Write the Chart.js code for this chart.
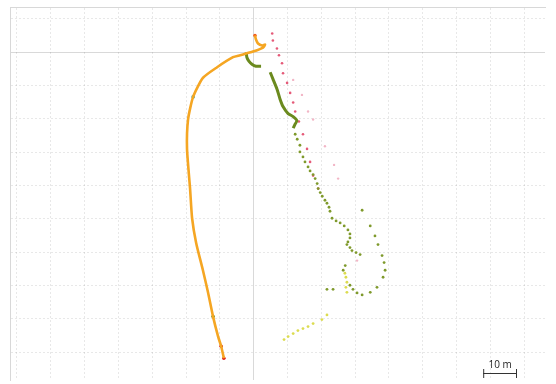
<!DOCTYPE html>
<html lang="en">
<head>
  <meta charset="UTF-8" />
  <title>Track</title>
  <script src="https://cdn.jsdelivr.net/npm/chart.js"></script>
  <style>
    html, body { margin: 0; padding: 0; background: #fff; }
    #wrap { width: 556px; height: 384px; }
  </style>
</head>
<body>
  <div id="wrap"><canvas id="track"></canvas></div>
  <script>
    // grid lines, every 10 m
    const xGrid = [0, 10, 20, 30, 40, 50, 60, 70, 80, 90, 100, 110, 120, 130, 140, 150];
    const yGrid = [10, 20, 30, 40, 50, 60, 70, 80, 90, 100, 110];

    // orange track (x, y in metres)
    const orangeX = [70.4, 70.7, 71.3, 72.5, 73.4, 72.8, 69.8, 66.0, 63.9, 59.2, 55.0, 52.1, 50.6, 50.3, 51.2, 51.8, 53.0, 55.0, 56.5, 58.0, 59.5, 60.4, 61.2];
    const orangeY = [105.0, 103.8, 102.6, 102.0, 102.3, 101.4, 100.2, 99.1, 98.5, 95.5, 92.3, 86.6, 79.8, 71.0, 59.1, 50.2, 42.8, 34.6, 28.0, 20.7, 14.7, 11.8, 8.2];

    // olive track, two solid pieces
    const oliveAX = [67.8, 68.0, 68.6, 69.5, 70.7, 72.2];
    const oliveAY = [100.0, 98.5, 97.3, 96.4, 95.8, 95.8];
    const oliveBX = [74.9, 75.7, 76.9, 77.8, 78.7, 80.2, 81.7, 82.8, 82.2, 81.7];
    const oliveBY = [94.0, 92.0, 89.0, 86.0, 83.7, 81.6, 80.7, 79.5, 78.3, 77.2];

    // olive dots
    const oliveDotX = [82.3, 82.9, 83.7, 83.7, 84.6, 85.2, 86.1, 86.7, 87.6, 88.2, 88.8, 89.1, 89.7, 90.3, 91.1, 91.7, 92.3, 92.6, 93.2, 94.4, 95.6, 96.8, 97.9, 98.5, 98.5, 97.9, 97.6, 98.5, 99.1, 100.3, 101.5, 97.1, 96.5,
      102.1, 104.5, 105.9, 106.8, 108.0, 108.6, 108.9, 108.3, 106.5, 104.5, 102.1, 100.6, 99.4, 98.5, 93.5, 91.7];
    const oliveDotY = [75.4, 73.9, 72.1, 70.1, 68.6, 67.1, 65.6, 64.4, 63.3, 62.1, 60.6, 59.1, 57.9, 56.8, 55.6, 54.7, 53.5, 52.3, 50.2, 49.4, 48.8, 47.9, 46.7, 45.5, 44.3, 43.1, 42.3, 41.4, 40.5, 39.9, 39.3, 36.0, 34.6,
      52.6, 47.9, 44.9, 42.3, 39.0, 36.9, 34.6, 32.5, 29.5, 28.0, 27.2, 27.8, 28.9, 30.1, 28.9, 28.9];

    // yellow dots
    const yellowX = [97.0, 97.3, 97.6, 97.3, 97.6, 91.7, 90.2, 87.6, 86.1, 84.6, 83.1, 81.7, 80.2, 79.0];
    const yellowY = [33.7, 32.5, 31.0, 29.5, 28.0, 21.2, 19.8, 18.6, 17.7, 17.1, 16.5, 15.6, 14.7, 13.8];

    // red / pink dots
    const pinkX = [75.5, 75.7, 76.9, 77.5, 78.4, 78.7, 79.9, 80.8, 81.7, 82.3, 83.4, 84.6, 85.8, 86.7, 87.6, 89.1];
    const pinkY = [105.6, 103.5, 101.1, 99.1, 96.7, 93.7, 90.8, 87.8, 84.9, 82.2, 79.2, 75.4, 71.0, 67.1, 63.0, 59.1];
    const paleX = [81.7, 84.3, 86.1, 87.6, 91.1, 93.8, 95.0, 100.6];
    const paleY = [91.7, 87.2, 82.2, 79.8, 71.8, 66.2, 62.1, 37.5];

    // markers on the orange track
    const markX = [61.2, 60.4, 58.0, 52.1, 70.4];
    const markY = [8.2, 11.8, 20.7, 86.6, 105.0];
    const markColors = ['#e0201a', '#d8281a', '#5a8a20', '#3aa39a', '#f05a1a'];

    const pts = (xs, ys) => xs.map((x, i) => ({ x: x, y: ys[i] }));

    const scaleBar = {
      id: 'scaleBar',
      afterDraw(chart) {
        const c = chart.ctx, xs = chart.scales.x;
        const len = xs.getPixelForValue(10) - xs.getPixelForValue(0);
        const x1 = 517, x0 = x1 - len, y = 373;
        c.save();
        c.strokeStyle = '#333';
        c.lineWidth = 1;
        c.beginPath();
        c.moveTo(x0, y + 0.5); c.lineTo(x1, y + 0.5);
        c.moveTo(x0 + 0.5, y - 4); c.lineTo(x0 + 0.5, y + 5);
        c.moveTo(x1 - 0.5, y - 4); c.lineTo(x1 - 0.5, y + 5);
        c.stroke();
        c.fillStyle = '#222';
        c.font = '10px "Open Sans", sans-serif';
        c.textAlign = 'center';
        c.textBaseline = 'alphabetic';
        c.fillText('10 m', (x0 + x1) / 2, y - 5);
        c.restore();
      }
    };

    const gridColor = (solidAt) => (ctx) => {
      if (!ctx.tick) return '#d8d8d8';
      return ctx.tick.value === solidAt ? 'rgba(0,0,0,0.15)' : 'rgba(0,0,0,0.09)';
    };
    const gridDash = (solidAt) => (ctx) => {
      if (!ctx.tick || ctx.tick.value === solidAt) return [];
      return [2, 2];
    };

    new Chart(document.getElementById('track'), {
      type: 'scatter',
      data: {
        datasets: [
          { data: pts(orangeX, orangeY), showLine: true, borderColor: '#f5a623', borderWidth: 2.6, pointRadius: 0, tension: 0.2 },
          { data: pts(oliveAX, oliveAY), showLine: true, borderColor: '#6b8a1e', borderWidth: 3, pointRadius: 0, tension: 0.2 },
          { data: pts(oliveBX, oliveBY), showLine: true, borderColor: '#6b8a1e', borderWidth: 3, pointRadius: 0, tension: 0.2 },
          { data: pts(oliveDotX, oliveDotY), backgroundColor: '#7f9a2c', borderWidth: 0, pointRadius: 1.4 },
          { data: pts(yellowX, yellowY), backgroundColor: '#dcdc50', borderWidth: 0, pointRadius: 1.4 },
          { data: pts(paleX, paleY), backgroundColor: '#f2b6c6', borderWidth: 0, pointRadius: 1.2 },
          { data: pts(pinkX, pinkY), backgroundColor: '#e55a78', borderWidth: 0, pointRadius: 1.3 },
          { data: pts(markX, markY), backgroundColor: markColors, borderWidth: 0, pointRadius: 1.8 }
        ]
      },
      options: {
        responsive: true,
        maintainAspectRatio: false,
        animation: false,
        layout: { padding: { left: 10, top: 7, right: 11, bottom: 0 } },
        plugins: { legend: { display: false }, tooltip: { enabled: false } },
        scales: {
          x: {
            type: 'linear', position: 'top', min: -2.07, max: 156.2,
            afterBuildTicks: (s) => { s.ticks = xGrid.map(v => ({ value: v })); },
            ticks: { display: false },
            grid: { drawTicks: false, color: gridColor(70), lineWidth: 1 },
            border: { display: true, color: '#d8d8d8', dash: gridDash(70) }
          },
          y: {
            type: 'linear', min: 1.69, max: 113.56,
            afterBuildTicks: (s) => { s.ticks = yGrid.map(v => ({ value: v })); },
            ticks: { display: false },
            grid: { drawTicks: false, color: gridColor(100), lineWidth: 1 },
            border: { display: true, color: '#d8d8d8', dash: gridDash(100) }
          }
        }
      },
      plugins: [scaleBar]
    });
  </script>
</body>
</html>
